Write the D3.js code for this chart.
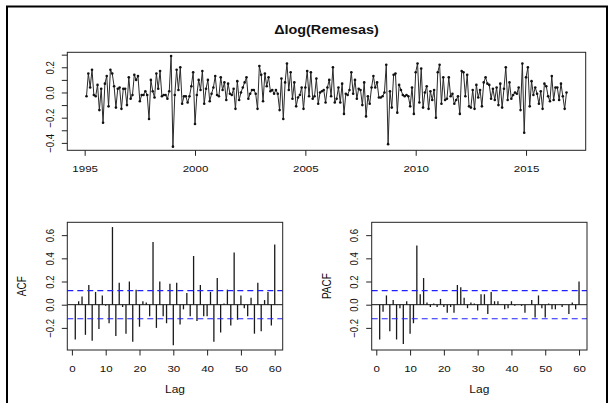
<!DOCTYPE html>
<html>
<head>
<meta charset="utf-8">
<script src="https://cdn.jsdelivr.net/npm/d3@7/dist/d3.min.js"></script>
<style>
  body { margin: 0; background: #fff; }
  text { font-family: "Liberation Sans", Arial, sans-serif; fill: #111; }
</style>
</head>
<body>
<div id="chart"></div>
<script>
// monthly series, first differenced observation is Feb 1995
const startYear = 1995;
const startMonth = 1; // 0 = Jan
const dlogRemesas = [
  -0.03, 0.15, 0.04, 0.18, -0.02, -0.03, 0.06, -0.14, 0.03, -0.24,
  0.07, 0.13, -0.11, 0.18, 0.15, 0.05, -0.12, 0.03, 0.04, -0.13,
  0.03, 0.03, -0.10, 0.12, -0.05, -0.02, 0.14, 0.10, 0.13, -0.07, -0.02,
  -0.02, 0.01, -0.02, -0.21, 0.10, 0.01, -0.04, 0.15, 0.03, 0.17,
  -0.03, -0.02, -0.02, -0.05, 0.01, 0.29, -0.43, -0.02, 0.18,
  0.02, 0.20, -0.09, -0.03, -0.03, -0.08, -0.03, 0.05, 0.16, -0.25,
  -0.02, 0.10, 0.02, 0.17, -0.09, 0.03, 0.10, -0.07, -0.01, 0.04,
  0.13, -0.02, -0.03, 0.12, 0.02, 0.08, -0.06, 0.07, -0.01, -0.02,
  0.03, -0.13, 0.09, -0.06, 0.00, 0.04, 0.08, 0.12, -0.05, -0.01,
  0.02, 0.02, -0.01, -0.13, 0.21, 0.14, -0.07, 0.15, 0.05, 0.12,
  0.01, 0.02, -0.01, 0.02, -0.01, -0.14, 0.11, -0.21, 0.08, 0.23,
  0.02, 0.16, -0.05, 0.08, -0.11, -0.04, -0.02, 0.04, -0.13,
  0.04, 0.17, -0.03, 0.16, -0.05, -0.03, 0.11, -0.09, 0.00, 0.01,
  0.02, -0.08, 0.04, 0.10, -0.03, 0.20, -0.08, -0.05, 0.04, -0.08,
  0.07, -0.17, -0.01, -0.02, 0.02, 0.16, -0.01, 0.10, -0.05, 0.03,
  0.02, -0.10, 0.08, -0.19, -0.03, -0.09, 0.04, 0.13, 0.04, 0.08,
  -0.04, -0.04, -0.03, 0.00, 0.22, -0.41, 0.01, -0.12, 0.14, 0.15,
  -0.16, 0.06, 0.02, -0.02, -0.03, -0.02, -0.03, -0.11, 0.04, -0.17,
  0.16, 0.23, -0.08, 0.19, -0.12, 0.00, 0.05, -0.13, 0.01, -0.06,
  0.02, -0.20, 0.16, 0.22, -0.09, 0.12, -0.06, -0.05, 0.12, -0.03,
  -0.01, -0.09, -0.06, -0.03, -0.17, 0.17, 0.16, -0.03, 0.14, -0.11,
  -0.12, 0.02, -0.13, 0.06, -0.04, 0.02, -0.11, 0.08, 0.12, 0.07,
  0.06, -0.05, 0.03, -0.06, 0.04, -0.10, 0.07, -0.12, 0.03,
  0.20, -0.06, 0.08, -0.05, -0.02, 0.00, -0.01, 0.04, -0.14, 0.23,
  -0.32, 0.12, 0.20, -0.11, 0.09, -0.02, 0.04, -0.01, -0.09, 0.01,
  -0.13, 0.07, 0.05, -0.03, -0.07, 0.13, -0.06, 0.04,
  0.04, -0.06, 0.07, -0.03, -0.13, 0.00
];

// sample autocorrelations, lags 1..60
const acfValues = [
  -0.30, 0.03, 0.07, -0.26, 0.17, -0.31, 0.11, -0.21, 0.08, -0.01,
  -0.16, 0.67, -0.27, 0.19, -0.02, -0.25, 0.20, -0.32, 0.13, -0.19,
  0.03, 0.02, -0.10, 0.54, -0.20, 0.20, -0.10, -0.16, 0.18, -0.35,
  0.19, -0.17, -0.04, 0.10, -0.10, 0.42, -0.14, 0.17, -0.10, -0.10,
  0.11, -0.32, 0.23, -0.24, 0.01, 0.13, -0.18, 0.45, -0.13, 0.08,
  -0.03, -0.10, 0.06, -0.25, 0.19, -0.23, 0.04, 0.11, -0.18, 0.52
];
const pacfValues = [
  -0.30, -0.06, 0.08, -0.23, 0.04, -0.30, -0.03, -0.34, 0.03, -0.25,
  -0.16, 0.51, 0.09, 0.23, 0.02, -0.02, 0.01, -0.02, 0.05, -0.02,
  -0.07, -0.02, -0.07, 0.17, 0.15, 0.06, -0.03, 0.02, 0.01, -0.05,
  0.09, 0.09, -0.08, 0.11, 0.03, 0.03, 0.00, -0.04, -0.03, 0.03,
  -0.01, 0.00, -0.01, -0.07, 0.00, 0.04, -0.11, 0.08, -0.03, -0.11,
  0.01, -0.04, -0.04, 0.00, -0.02, 0.00, -0.08, 0.02, -0.04, 0.20
];

const yearTicks = [1995, 2000, 2005, 2010, 2015];
const tsYTicks = [-0.4, -0.3, -0.2, -0.1, 0.0, 0.1, 0.2, 0.3];
const tsYLabels = [-0.4, -0.2, 0.0, 0.2];
const lagTicks = [0, 10, 20, 30, 40, 50, 60];
const acfYTicks = [-0.2, 0.0, 0.2, 0.4, 0.6];

const width = 611, height = 403;
const SX = 1.2;          // the source picture is stretched horizontally
const TICK = 5.5;

const svg = d3.select("#chart").append("svg")
    .attr("width", width)
    .attr("height", height);

svg.append("rect")
    .attr("x", 7).attr("y", 6.5)
    .attr("width", 600).attr("height", 410)
    .attr("fill", "none")
    .attr("stroke", "#000")
    .attr("stroke-width", 2);

// R style range: data extent widened by 4% on each side
function pad4(ext) {
    const d = (ext[1] - ext[0]) * 0.04;
    return [ext[0] - d, ext[1] + d];
}

function fmt(v) { return Math.abs(v) < 1e-9 ? "0.0" : d3.format(".1f")(v); }

function stretchedText(g, x, y, txt, size, weight) {
    return g.append("text")
        .attr("transform", "translate(" + x + "," + y + ") scale(" + SX + ",1)")
        .attr("text-anchor", "middle")
        .style("font-size", size + "px")
        .style("font-weight", weight || "normal")
        .text(txt);
}

function xAxisR(g, scale, ticks, fmtFn) {
    const axis = d3.axisBottom(scale).tickValues(ticks).tickSize(TICK).tickSizeOuter(0).tickFormat(fmtFn);
    g.call(axis);
    g.select(".domain").remove();
    g.selectAll(".tick line").attr("stroke", "#222");
    g.selectAll(".tick text")
        .attr("y", null).attr("dy", null)
        .attr("fill", "#111")
        .style("font-size", "9.6px")
        .attr("font-family", null)
        .attr("transform", "translate(0,22) scale(" + SX + ",1)");
}

function yAxisR(g, scale, ticks, labels) {
    const axis = d3.axisLeft(scale).tickValues(ticks).tickSize(TICK).tickSizeOuter(0)
        .tickFormat(v => labels.some(l => Math.abs(l - v) < 1e-9) ? fmt(v) : "");
    g.call(axis);
    g.select(".domain").remove();
    g.selectAll(".tick line").attr("stroke", "#222");
    g.selectAll(".tick text")
        .attr("x", null).attr("dy", null)
        .attr("text-anchor", "middle")
        .attr("fill", "#111")
        .attr("font-family", null)
        .style("font-size", "9.6px")
        .attr("transform", "translate(-13.5,0) scale(" + SX + ",1) rotate(-90)");
}

// ---------- top panel: time series ----------
const tsBox = { x0: 67.3, x1: 585.7, y0: 52.3, y1: 150.3 };
const tsData = dlogRemesas.map((v, i) => ({ t: startYear + (startMonth + i) / 12, v: v }));

const xTs = d3.scaleLinear()
    .domain(pad4(d3.extent(tsData, d => d.t)))
    .range([tsBox.x0, tsBox.x1]);
const yTs = d3.scaleLinear()
    .domain(pad4(d3.extent(tsData, d => d.v)))
    .range([tsBox.y1, tsBox.y0]);

const gTs = svg.append("g");
gTs.append("path")
    .datum(tsData)
    .attr("fill", "none")
    .attr("stroke", "#2a2a2a")
    .attr("stroke-width", 1)
    .attr("d", d3.line().x(d => xTs(d.t)).y(d => yTs(d.v)));
gTs.selectAll("circle")
    .data(tsData)
    .enter().append("circle")
    .attr("cx", d => xTs(d.t))
    .attr("cy", d => yTs(d.v))
    .attr("r", 1.3)
    .attr("fill", "#111");

gTs.append("rect")
    .attr("x", tsBox.x0).attr("y", tsBox.y0)
    .attr("width", tsBox.x1 - tsBox.x0).attr("height", tsBox.y1 - tsBox.y0)
    .attr("fill", "none").attr("stroke", "#222").attr("stroke-width", 1);

svg.append("g")
    .attr("transform", "translate(0," + tsBox.y1 + ")")
    .call(g => xAxisR(g, xTs, yearTicks, d3.format("d")));
svg.append("g")
    .attr("transform", "translate(" + tsBox.x0 + ",0)")
    .call(g => yAxisR(g, yTs, tsYTicks, tsYLabels));

stretchedText(svg, (tsBox.x0 + tsBox.x1) / 2, 34, "\u0394log(Remesas)", 12, "bold");

// ---------- bottom panels: ACF and PACF ----------
const ciBound = 1.96 / Math.sqrt(dlogRemesas.length);
const corrExt = pad4([
    Math.min(d3.min(acfValues), d3.min(pacfValues), -ciBound),
    Math.max(d3.max(acfValues), d3.max(pacfValues), ciBound)
]);

function corrPanel(values, box, label) {
    const data = values.map((v, i) => ({ lag: i + 1, v: v }));
    const x = d3.scaleLinear()
        .domain(pad4(d3.extent(data, d => d.lag)))
        .range([box.x0, box.x1]);
    const y = d3.scaleLinear()
        .domain(corrExt)
        .range([box.y1, box.y0]);

    const g = svg.append("g");
    g.selectAll("line.bar")
        .data(data)
        .enter().append("line")
        .attr("class", "bar")
        .attr("x1", d => x(d.lag)).attr("x2", d => x(d.lag))
        .attr("y1", y(0)).attr("y2", d => y(d.v))
        .attr("stroke", "#1a1a1a")
        .attr("stroke-width", 1.3);

    g.append("line")
        .attr("x1", box.x0).attr("x2", box.x1)
        .attr("y1", y(0)).attr("y2", y(0))
        .attr("stroke", "#111").attr("stroke-width", 1);

    [ciBound, -ciBound].forEach(c => {
        g.append("line")
            .attr("x1", box.x0).attr("x2", box.x1)
            .attr("y1", y(c)).attr("y2", y(c))
            .attr("stroke", "#2020ff")
            .attr("stroke-width", 1.1)
            .attr("stroke-dasharray", "6,4");
    });

    g.append("rect")
        .attr("x", box.x0).attr("y", box.y0)
        .attr("width", box.x1 - box.x0).attr("height", box.y1 - box.y0)
        .attr("fill", "none").attr("stroke", "#222").attr("stroke-width", 1);

    svg.append("g")
        .attr("transform", "translate(0," + box.y1 + ")")
        .call(gg => xAxisR(gg, x, lagTicks, d3.format("d")));
    svg.append("g")
        .attr("transform", "translate(" + box.x0 + ",0)")
        .call(gg => yAxisR(gg, y, acfYTicks, acfYTicks));

    stretchedText(svg, (box.x0 + box.x1) / 2, box.y1 + 43, "Lag", 10);
    svg.append("text")
        .attr("transform", "translate(" + (box.x0 - 41) + "," + ((box.y0 + box.y1) / 2) + ") scale(" + SX + ",1) rotate(-90)")
        .attr("text-anchor", "middle")
        .style("font-size", "10px")
        .text(label);
}

corrPanel(acfValues, { x0: 67.3, x1: 282.7, y0: 222.3, y1: 350 }, "ACF");
corrPanel(pacfValues, { x0: 371.7, x1: 587, y0: 222.3, y1: 350 }, "PACF");
</script>
</body>
</html>
